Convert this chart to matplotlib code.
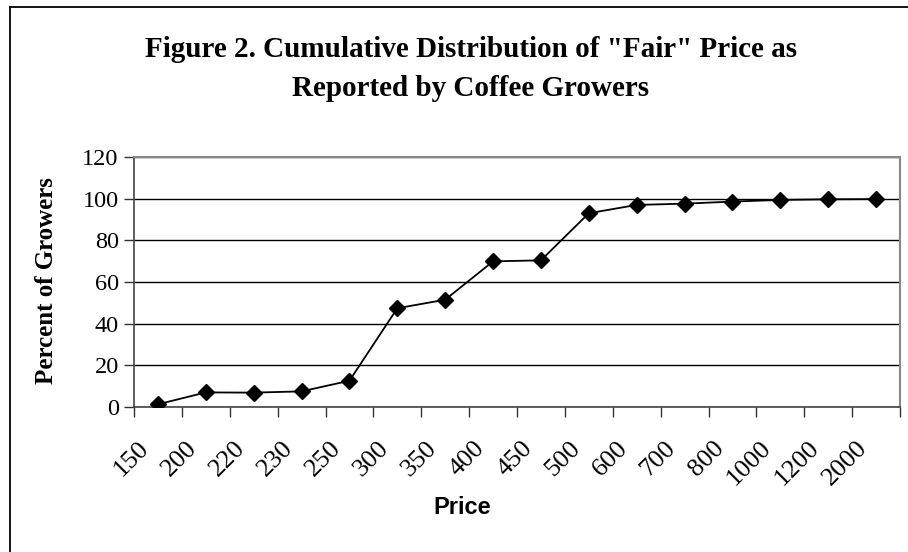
"""
Cumulative distribution of the "fair" price reported by coffee growers.
"""
import matplotlib.pyplot as plt
from matplotlib.lines import Line2D
from matplotlib.transforms import ScaledTranslation

# Datos
prices = ["150", "200", "220", "230", "250", "300", "350", "400", "450",
          "500", "600", "700", "800", "1000", "1200", "2000"]
percent_growers = [1.3, 7.0, 6.9, 7.5, 12.6, 47.4, 51.5, 69.9, 70.4,
                   93.0, 97.0, 97.6, 98.6, 99.4, 99.7, 99.8]
y_ticks = [0, 20, 40, 60, 80, 100, 120]

serif = ["Liberation Serif", "DejaVu Serif"]
sans = ["Liberation Sans", "DejaVu Sans"]

W, H = 908, 552
fig = plt.figure(figsize=(W / 100, H / 100), dpi=100)
ax = fig.add_axes([134 / W, 1 - 407 / H, 766 / W, 250 / H])

x = range(len(prices))
ax.plot(x, percent_growers, color="black", linewidth=1.3,
        marker="D", markersize=8.5, markerfacecolor="black",
        markeredgecolor="black", zorder=3)

# Ejes estilo Excel
ax.set_xlim(-0.5, len(prices) - 0.5)
ax.set_ylim(0, 120)
ax.set_yticks(y_ticks)
ax.set_yticklabels([str(v) for v in y_ticks], fontfamily=serif, fontsize=17.5)
ax.set_xticks([i - 0.5 for i in range(len(prices) + 1)])
ax.set_xticklabels([])
ax.tick_params(axis="x", length=7, width=1, color="#333333")
ax.tick_params(axis="y", length=7, width=1, color="#333333", pad=4)

# Etiquetas de categoria giradas
label_trans = ax.get_xaxis_transform() + ScaledTranslation(
    -20 / 100, -30 / 100, fig.dpi_scale_trans)
for i, p in enumerate(prices):
    ax.text(i, 0, p, transform=label_trans, rotation=45, ha="right",
            va="top", rotation_mode="anchor", fontfamily=serif,
            fontsize=19, clip_on=False)

ax.grid(axis="y", color="black", linewidth=1)
ax.set_axisbelow(True)
for side in ["top", "right"]:
    ax.spines[side].set_color("#888888")
    ax.spines[side].set_linewidth(1.5)
for side in ["left", "bottom"]:
    ax.spines[side].set_color("#444444")
    ax.spines[side].set_linewidth(1.2)

# Titulos
fig.text(47 / W, 1 - 281 / H, "Percent of Growers", rotation=90,
         ha="center", va="center", fontfamily=serif, fontsize=18,
         fontweight="bold")
fig.text(462 / W, 1 - 508 / H, "Price", ha="center", va="center",
         fontfamily=sans, fontsize=17, fontweight="bold")
fig.text(471 / W, 1 - 57 / H,
         "Figure 2. Cumulative Distribution of \"Fair\" Price as",
         ha="center", va="baseline", fontfamily=serif, fontsize=21,
         fontweight="bold")
fig.text(471 / W, 1 - 96 / H, "Reported by Coffee Growers",
         ha="center", va="baseline", fontfamily=serif, fontsize=21,
         fontweight="bold")

# Borde de la figura (solo izquierda y arriba visibles)
fig.add_artist(Line2D([10 / W, 10 / W], [0, 1 - 7 / H],
                      transform=fig.transFigure, color="black", linewidth=1.3))
fig.add_artist(Line2D([10 / W, 1], [1 - 7 / H, 1 - 7 / H],
                      transform=fig.transFigure, color="black", linewidth=1.3))

fig.savefig("out.png", dpi=100, facecolor="white")
